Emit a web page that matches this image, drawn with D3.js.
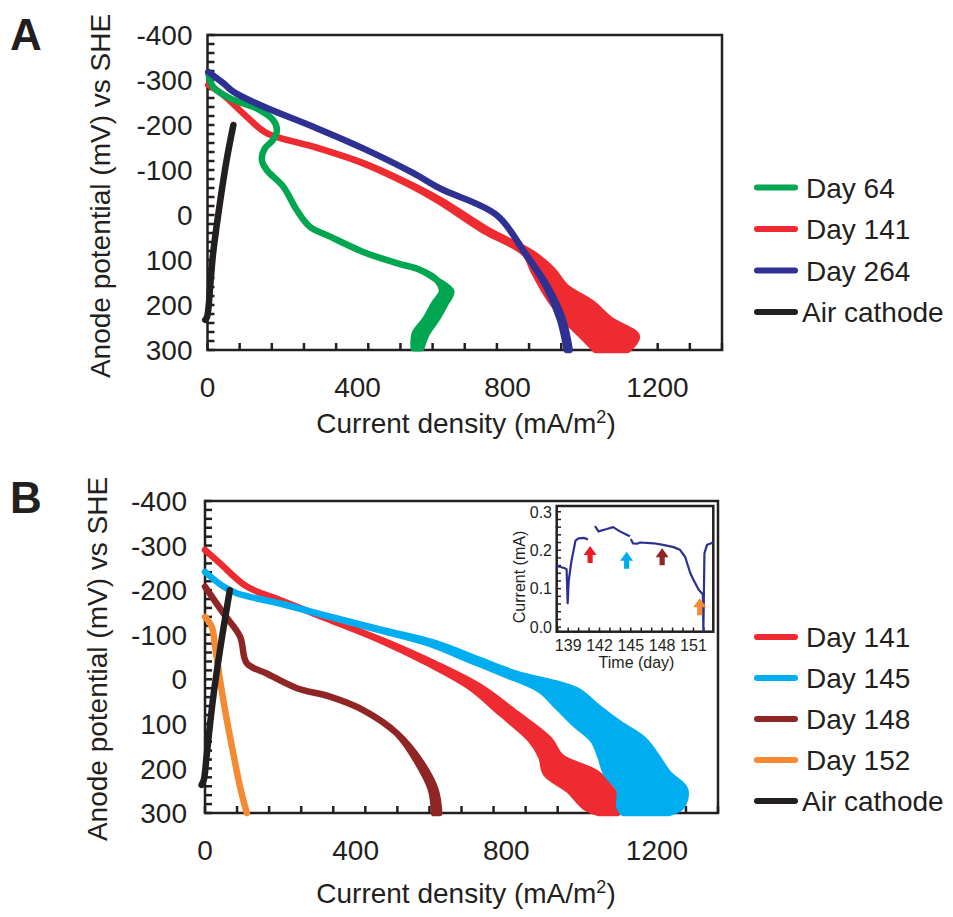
<!DOCTYPE html>
<html>
<head>
<meta charset="utf-8">
<script src="https://d3js.org/d3.v7.min.js"></script>
<style>
body{margin:0;background:#fff}
text{font-family:"Liberation Sans",Arial,Helvetica,sans-serif;fill:#231f20}
</style>
</head>
<body>
<div id="fig"></div>
<script>
// rows are [anode potential (mV), current density low, current density high]
let potentialTicks=[-400,-300,-200,-100,0,100,200,300];
let currentTicks=[0,400,800,1200];

let a_day64=[[-315,2,2],[-285,15,15],[-259,60,60],[-237,131,131],[-211,175,175],[-189,185,185],[-167,175,175],[-148,153,153],[-122,145,145],[-100,158,158],[-63,202,202],[-11,238,238],[26,273,273],[48,327,327],[82,415,415],[107,505,505],[122,567,567],[144,611,611],[170,625,650],[196,605,635],[233,580,610],[263,553,585],[296,550,570]];
let a_day141=[[-289,2,2],[-267,42,42],[-218,105,105],[-182,158,158],[-152,282,282],[-115,414,417],[-63,548,554],[-30,618,628],[33,733,747],[85,845,866],[122,868,920],[159,892,955],[196,920,1025],[233,955,1075],[270,1000,1145],[300,1035,1120]];
let a_day264=[[-318,2,2],[-293,42,42],[-274,69,69],[-241,149,149],[-196,282,282],[-148,415,415],[-93,549,549],[-59,620,620],[0,771,771],[85,847,847],[159,903,907],[233,940,948],[300,958,966]];
let a_air=[[233,-6,-6],[226,-1,-1],[150,8,8],[85,15,15],[-26,33,33],[-122,51,51],[-200,69,69]];

let b_day141=[[-290,0,0],[-260,40,40],[-208,111,111],[-178,199,199],[-133,332,332],[-88,464,469],[-36,592,608],[17,703,730],[76,785,825],[136,865,915],[174,893,945],[211,905,1040],[248,965,1080],[286,1008,1110],[300,1045,1095]];
let b_day145=[[-241,0,0],[-208,49,49],[-193,84,84],[-170,199,199],[-140,332,335],[-111,460,470],[-81,592,612],[-43,703,730],[-13,790,825],[24,890,985],[61,935,1040],[99,980,1100],[136,1030,1165],[174,1050,1200],[211,1065,1230],[248,1100,1275],[286,1100,1265],[300,1110,1230]];
let b_day148=[[-208,0,0],[-148,49,49],[-96,93,93],[-36,111,111],[-13,164,164],[20,244,244],[39,332,332],[69,420,420],[121,509,509],[189,566,576],[248,600,612],[300,608,622]];
let b_day152=[[-140,0,0],[-118,18,18],[-73,27,27],[2,40,40],[91,58,58],[166,75,75],[241,93,93],[300,111,111]];
let b_air=[[237,-9,-9],[225,-3,-3],[166,5,5],[39,22,22],[-88,44,44],[-200,66,66]];

let a_names=["Day 64","Day 141","Day 264","Air cathode"];
let b_names=["Day 141","Day 145","Day 148","Day 152","Air cathode"];

// inset: [day, current mA], null = gap
let insetLine=[[137.9,0.159],[138.7,0.153],[138.85,0.150],[138.95,0.062],[139.05,0.12],[139.3,0.17],[139.7,0.225],[140.0,0.231],[140.5,0.232],[140.9,0.228],null,
  [141.57,0.263],[141.9,0.249],[142.7,0.255],[143.3,0.260],[143.96,0.249],[144.6,0.240],[144.92,0.236],null,
  [145.0,0.229],[145.2,0.218],[145.6,0.217],[145.9,0.220],[147.2,0.218],[148.1,0.214],[149.1,0.208],[149.7,0.201],[150.2,0.183],[150.7,0.140],[151.0,0.123],[151.5,0.097],[151.8,0.088],[151.9,0.085],[151.95,-0.01],[152.05,0.192],[152.3,0.214],[152.9,0.220]];
let insetDayTicks=[139,142,145,148,151];
let insetCurTicks=[0.0,0.1,0.2,0.3];
let arrowDays=[141.1,144.6,148.0,151.6];
let arrowCurrents=[0.211,0.196,0.205,0.075];

var ink="#231f20";
var colA=["#00a650","#ed2b30","#2e3192",ink];
var colB=["#ed2b30","#00aeef","#8f2525","#f58a33",ink];

var svg=d3.select("#fig").append("svg").attr("width",953).attr("height",917);

function drawPanel(p){
  var x=d3.scaleLinear().domain([0,p.xmax]).range([p.left,p.right]);
  var y=d3.scaleLinear().domain([-400,300]).range([p.top,p.bottom]);
  var g=svg.append("g");

  g.append("rect").attr("x",p.left).attr("y",p.top).attr("width",p.right-p.left).attr("height",p.bottom-p.top)
    .attr("fill","none").attr("stroke",ink).attr("stroke-width",2.5);

  var xt=d3.range(17).map(i=>p.xmax*i/16);
  g.selectAll(null).data(xt).enter().append("line")
    .attr("x1",d=>x(d)).attr("x2",d=>x(d)).attr("y1",p.bottom).attr("y2",p.bottom-7)
    .attr("stroke",ink).attr("stroke-width",2.5);
  g.selectAll(null).data(d3.range(-400,301,20)).enter().append("line")
    .attr("x1",p.left).attr("x2",p.left+7).attr("y1",d=>y(d)).attr("y2",d=>y(d))
    .attr("stroke",ink).attr("stroke-width",2.5);

  g.selectAll(null).data(potentialTicks).enter().append("text")
    .attr("x",p.left-p.ylabOff).attr("y",d=>y(d)).attr("dy","0.36em")
    .attr("text-anchor","end").style("font-size","28px").text(d=>d);
  g.selectAll(null).data(currentTicks).enter().append("text")
    .attr("x",d=>x(d)).attr("y",p.bottom+47)
    .attr("text-anchor","middle").style("font-size","28px").text(d=>d);

  var xt2=g.append("text").attr("x",p.xtitleX).attr("y",p.xtitleY).attr("text-anchor","middle").style("font-size","28px");
  xt2.append("tspan").text("Current density (mA/m");
  xt2.append("tspan").attr("dy",-10).style("font-size","18px").text("2");
  xt2.append("tspan").attr("dy",10).text(")");

  g.append("text").attr("transform","translate("+p.ytitleX+","+p.ytitleY+") rotate(-90)")
    .attr("text-anchor","middle").style("font-size","28px").text("Anode potential (mV) vs SHE");

  g.append("text").attr("x",10).attr("y",p.letterY).style("font-size","44px").style("font-weight","bold").text(p.letter);

  var area=d3.area().curve(d3.curveCatmullRom.alpha(0.5))
    .y(d=>y(d[0])).x0(d=>x(d[1])).x1(d=>x(d[2]));
  p.order.forEach(function(i){
    g.append("path").datum(p.series[i]).attr("d",area)
      .attr("fill",p.colors[i]).attr("stroke",p.colors[i]).attr("stroke-width",6.5)
      .attr("stroke-linejoin","round").attr("stroke-linecap","round");
  });

  var lg=g.selectAll(null).data(p.names).enter().append("g")
    .attr("transform",(d,i)=>"translate(757,"+(p.legY+i*p.legStep)+")");
  lg.append("line").attr("x1",0).attr("x2",38).attr("stroke",(d,i)=>p.colors[i])
    .attr("stroke-width",6).attr("stroke-linecap","round");
  lg.append("text").attr("x",(d,i)=>d=="Air cathode"?45:49).attr("dy","0.36em").style("font-size","28px").text(d=>d);
  return {x:x,y:y,g:g};
}

drawPanel({left:207.5,right:722,top:35,bottom:350,xmax:1372,ylabOff:15,
  xtitleX:466,xtitleY:433,ytitleX:110,ytitleY:196,letter:"A",letterY:50,
  series:[a_day64,a_day141,a_day264,a_air],colors:colA,order:[1,0,2,3],
  names:a_names,legY:187.5,legStep:41.5});

drawPanel({left:205,right:718,top:501,bottom:813,xmax:1362,ylabOff:18,
  xtitleX:466,xtitleY:903,ytitleX:107,ytitleY:659,letter:"B",letterY:513,
  series:[b_day141,b_day145,b_day148,b_day152,b_air],colors:colB,order:[0,1,2,3,4],
  names:b_names,legY:637,legStep:41});

// inset
var ix=d3.scaleLinear().domain([137.9,152.9]).range([556.7,713.3]);
var iy=d3.scaleLinear().domain([-0.012,0.315]).range([631.7,506]);
var ig=svg.append("g");
ig.append("rect").attr("x",556.7).attr("y",506).attr("width",156.6).attr("height",125.7)
  .attr("fill","#fff").attr("stroke",ink).attr("stroke-width",2.5);
ig.selectAll(null).data(d3.range(138,153)).enter().append("line")
  .attr("x1",d=>ix(d)).attr("x2",d=>ix(d)).attr("y1",631.7).attr("y2",627.5)
  .attr("stroke",ink).attr("stroke-width",1.5);
ig.selectAll(null).data(d3.range(0,16).map(i=>i*0.02)).enter().append("line")
  .attr("x1",556.7).attr("x2",561).attr("y1",d=>iy(d)).attr("y2",d=>iy(d))
  .attr("stroke",ink).attr("stroke-width",1.5);
ig.selectAll(null).data(insetDayTicks).enter().append("text")
  .attr("x",d=>ix(d)).attr("y",651).attr("text-anchor","middle").style("font-size","16px").text(d=>d);
ig.selectAll(null).data(insetCurTicks).enter().append("text")
  .attr("x",552).attr("y",d=>iy(d)).attr("dy","0.36em").attr("text-anchor","end").style("font-size","16px").text(d=>d.toFixed(1));
ig.append("text").attr("x",636.5).attr("y",668).attr("text-anchor","middle").style("font-size","16px").text("Time (day)");
ig.append("text").attr("transform","translate(525,577) rotate(-90)").attr("text-anchor","middle").style("font-size","16px").text("Current (mA)");

var iline=d3.line().defined(d=>d!=null).x(d=>ix(d[0])).y(d=>iy(d[1]));
ig.append("path").datum(insetLine).attr("d",iline).attr("fill","none")
  .attr("stroke","#2b3190").attr("stroke-width",2.2).attr("stroke-linejoin","round");

var arrowColors=["#ed1c24","#00aeef","#8f2525","#f58a33"];
ig.selectAll(null).data(arrowDays).enter().append("path")
  .attr("transform",(d,i)=>"translate("+ix(d)+","+iy(arrowCurrents[i])+")")
  .attr("d","M0,0L6.5,9L2.6,9L2.6,17L-2.6,17L-2.6,9L-6.5,9Z")
  .attr("fill",(d,i)=>arrowColors[i]);
</script>
</body>
</html>
